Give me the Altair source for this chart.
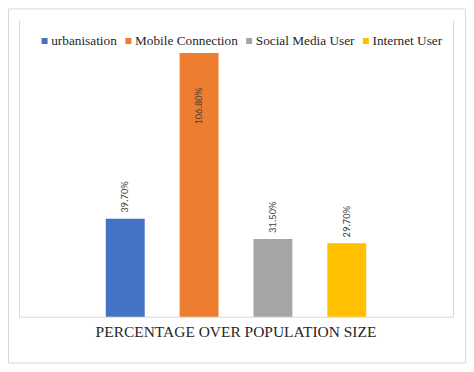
import altair as alt
import pandas as pd

series = ["urbanisation", "Mobile Connection", "Social Media User", "Internet User"]
values = [39.7, 106.8, 31.5, 29.7]
labels = ["39.70%", "106.80%", "31.50%", "29.70%"]
inside = [False, True, False, False]
colors = ["#4472C4", "#ED7D31", "#A5A5A5", "#FFC000"]
axis_title = "PERCENTAGE OVER POPULATION SIZE"

W, H = 435, 297
SERIF = "'Times New Roman', 'Liberation Serif', serif"
SANS = "Calibri, Carlito, 'Liberation Sans', sans-serif"

df = pd.DataFrame({"series": series, "value": values, "label": labels, "inside": inside})
one = pd.DataFrame({"t": [axis_title]})

x_enc = alt.X("series:N", sort=series, axis=None,
              scale=alt.Scale(paddingInner=0.473, paddingOuter=0.5, range=[50, 385]))
y_enc = alt.Y("value:Q", axis=None, scale=alt.Scale(domain=[0, 120]))

bars = alt.Chart(df).mark_bar().encode(
    x=x_enc,
    y=y_enc,
    color=alt.Color(
        "series:N", sort=series,
        scale=alt.Scale(domain=series, range=colors),
        legend=alt.Legend(
            title=None, orient="none", legendX=19, legendY=14,
            direction="horizontal", symbolType="square", symbolSize=36,
            symbolStrokeWidth=0, labelFont=SERIF, labelFontSize=13.3,
            labelColor="#262626", columnPadding=4, labelOffset=0, padding=0,
        ),
    ),
)

text_out = alt.Chart(df).transform_filter("!datum.inside").mark_text(
    angle=270, align="left", baseline="middle", dx=6,
    font=SANS, fontSize=10.5, color="#404040",
).encode(x=x_enc, y=y_enc, text="label:N")

text_in = alt.Chart(df).transform_filter("datum.inside").mark_text(
    angle=270, align="right", baseline="middle", dx=-35,
    font=SANS, fontSize=10.5, color="#404040",
).encode(x=x_enc, y=y_enc, text="label:N")

grey = "#d9d9d9"
left = alt.Chart(one).mark_rule(color=grey).encode(
    x=alt.value(0.5), y=alt.value(0), y2=alt.value(H))
right = alt.Chart(one).mark_rule(color=grey).encode(
    x=alt.value(W + 0.5), y=alt.value(0), y2=alt.value(H))
base = alt.Chart(one).mark_rule(color=grey).encode(
    x=alt.value(0), x2=alt.value(W + 1), y=alt.value(H + 0.5))
outer = alt.Chart(one).mark_rect(fillOpacity=0, stroke=grey, strokeWidth=1).encode(
    x=alt.value(-10.5), x2=alt.value(447.5), y=alt.value(-11.5), y2=alt.value(343.5))
title = alt.Chart(one).mark_text(
    font=SERIF, fontSize=15.5, color="#262626",
    align="center", baseline="alphabetic",
).encode(x=alt.value(W / 2), y=alt.value(H + 20), text="t:N")

chart = alt.layer(outer, left, right, base, bars, text_out, text_in, title).properties(
    width=W, height=H,
    autosize=alt.AutoSizeParams(type="none"),
    padding={"left": 11, "top": 12, "right": 13, "bottom": 47},
).configure(font=SERIF).configure_view(stroke=None).configure_legend(
    labelFont=SERIF, labelFontSize=13.3, labelColor="#262626"
)

chart.save("out.html", embed_options={"renderer": "svg", "actions": False})
